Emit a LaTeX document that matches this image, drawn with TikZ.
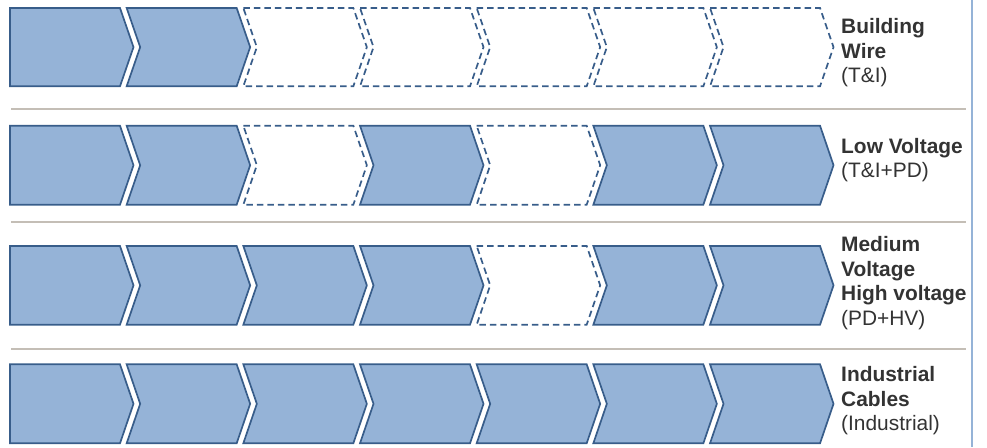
\documentclass[tikz,border=0pt]{standalone}
\usepackage{fontspec}
\setmainfont{Liberation Sans}
\definecolor{chevfill}{HTML}{95B3D7}
\definecolor{chevline}{HTML}{385D8A}
\definecolor{sepline}{HTML}{C4BEB6}
\definecolor{edgeline}{HTML}{95B3D7}
\definecolor{labeltext}{HTML}{333333}
\begin{document}
\begin{tikzpicture}[x=1pt,y=-1pt,
  chev1/.style={fill=chevfill, draw=chevline, line width=1.7pt, line join=miter},
  chev0/.style={draw=chevline, line width=1.7pt, dash pattern=on 6.5pt off 4pt},
  sepstyle/.style={draw=sepline, line width=2pt},
  edgestyle/.style={draw=edgeline, line width=2.5pt},
  lbl/.style={anchor=west, align=left, text=labeltext, font=\fontsize{20.9}{24.5}\selectfont, inner sep=0pt}]
\useasboundingbox (0,0) rectangle (987,447);
% chevron rows
\foreach \T/\B/\pat in {8/86.3/{1,1,0,0,0,0,0},125.7/204.7/{1,1,0,1,0,1,1},246/324.7/{1,1,1,1,0,1,1},364.3/443.3/{1,1,1,1,1,1,1}}{
  \pgfmathsetmacro\M{(\T+\B)/2}
  \foreach \f [count=\i from 0] in \pat {
    \pgfmathsetmacro\L{10+116.67*\i}
    \ifnum\i=0
      \path[chev\f] (\L,\T) -- (\L+110,\T) -- (\L+123.5,\M) -- (\L+110,\B) -- (\L,\B) -- cycle;
    \else
      \path[chev\f] (\L,\T) -- (\L+110,\T) -- (\L+123.5,\M) -- (\L+110,\B) -- (\L,\B) -- (\L+13.5,\M) -- cycle;
    \fi
  }
}
% separators
\draw[sepstyle] (11,109) -- (966,109);
\draw[sepstyle] (11,222) -- (966,222);
\draw[sepstyle] (11,349) -- (966,349);
% right edge
\draw[edgestyle] (972,0) -- (972,447);
% labels
\node[lbl] (lbl1) at (841,53) {\textbf{Building}\\\textbf{Wire}\\(T\&I)};
\node[lbl] (lbl2) at (841,160) {\textbf{Low Voltage}\\(T\&I+PD)};
\node[lbl] (lbl3) at (841,283) {\textbf{Medium}\\\textbf{Voltage}\\\textbf{High voltage}\\(PD+HV)};
\node[lbl] (lbl4) at (841,401) {\textbf{Industrial}\\\textbf{Cables}\\(Industrial)};
\end{tikzpicture}
\end{document}
